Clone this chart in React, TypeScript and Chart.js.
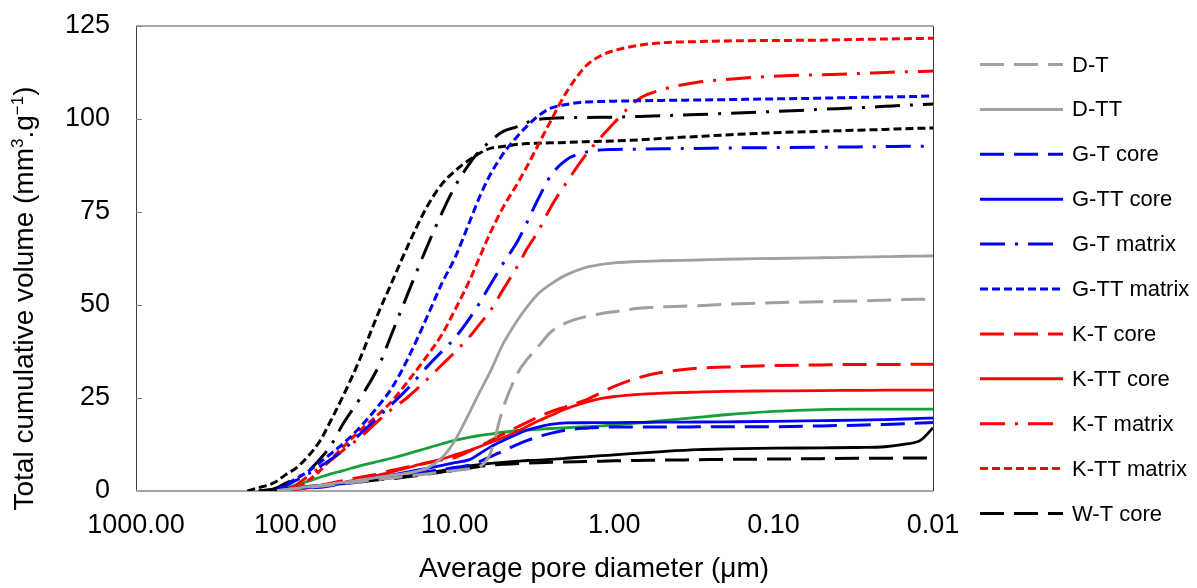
import React, { useEffect, useRef } from 'react';
import { Chart, registerables } from 'chart.js';
Chart.register(...registerables);

const FONT = '"Liberation Sans", Arial, Helvetica, sans-serif';

// Average pore diameter (µm) sampling grid
const diameters = [220, 200, 170, 150, 130, 115, 100, 85, 70, 60, 50, 40, 30, 25, 20, 15, 12, 10, 8, 7, 6, 5, 4, 3.5, 3, 2.5, 2, 1.5, 1.2, 1, 0.7, 0.5, 0.3, 0.2, 0.1, 0.05, 0.03, 0.02, 0.015, 0.012, 0.01];

// Total cumulative volume (mm3/g)
const dT = [null, null, null, null, 0.1, 0.3, 0.6, 0.9, 1.3, 1.6, 2.0, 2.5, 3.1, 3.5, 4.0, 4.6, 5.1, 5.5, 6.0, 6.5, 10, 22, 32, 35.5, 38.8, 42.7, 45.2, 46.9, 47.7, 48.2, 49.1, 49.5, 49.8, 50.2, 50.6, 50.9, 51.1, 51.3, 51.45, 51.55, 51.6];
const dTT = [null, null, null, null, 0.1, 0.4, 0.7, 1.1, 1.5, 1.9, 2.3, 2.9, 3.7, 4.2, 4.8, 6.1, 9, 13.5, 21.5, 26.5, 32, 39.4, 46.2, 49.6, 53, 55.6, 58.1, 60.1, 60.9, 61.3, 61.7, 61.9, 62.1, 62.3, 62.5, 62.7, 62.85, 63, 63.1, 63.15, 63.2];
const gTcore = [null, null, null, null, 0.1, 0.3, 0.6, 0.8, 1.0, 1.4, 1.9, 2.4, 3.3, 3.8, 4.5, 5.2, 5.8, 6.3, 7, 7.9, 9.2, 10.7, 12.6, 13.6, 14.6, 15.5, 16.4, 16.9, 17.1, 17.2, 17.2, 17.2, 17.25, 17.3, 17.3, 17.5, 17.7, 17.9, 18.1, 18.3, 18.4];
const gTTcore = [null, null, null, null, 0.1, 0.4, 0.7, 1.0, 1.3, 1.6, 2.1, 2.8, 3.7, 4.3, 5.1, 6.1, 6.9, 7.6, 8.5, 10, 11.8, 13.5, 15.4, 16.4, 17.2, 17.9, 18.3, 18.35, 18.4, 18.4, 18.45, 18.5, 18.55, 18.6, 18.7, 18.9, 19.05, 19.2, 19.35, 19.5, 19.6];
const gTmatrix = [null, null, null, null, 0.3, 1.4, 2.8, 4.3, 6.6, 8.5, 11, 15, 20, 23.2, 27.3, 33.3, 37.6, 41.1, 46.7, 50.5, 55.4, 61, 67.5, 72.5, 78.5, 84.8, 89, 91.1, 91.7, 91.8, 91.9, 92, 92.1, 92.2, 92.3, 92.4, 92.5, 92.6, 92.65, 92.7, 92.7];
const gTTmatrix = [null, null, null, null, 0.3, 1.7, 3.2, 5.0, 7.7, 10, 12.8, 16.8, 23, 27.5, 35, 46.6, 56, 62.6, 72.8, 79, 85, 90.5, 95.6, 98.2, 100.8, 102.9, 103.9, 104.6, 104.7, 104.8, 104.9, 105, 105.1, 105.2, 105.4, 105.6, 105.8, 105.9, 106, 106.1, 106.2];
const kTcore = [null, null, null, null, null, 0.2, 0.5, 0.9, 1.5, 2.1, 2.8, 3.6, 4.6, 5.5, 6.4, 7.5, 8.4, 9.0, 10.8, 12, 13.5, 15.3, 17.3, 18.5, 19.9, 21.3, 22.7, 24.5, 26.5, 28.1, 30.5, 31.9, 33, 33.3, 33.7, 33.9, 34, 34, 34.05, 34.1, 34.1];
const kTTcore = [null, null, null, null, null, 0.1, 0.4, 0.8, 1.2, 1.7, 2.3, 3.1, 4.3, 5.1, 6.2, 7.6, 8.6, 9.7, 11, 11.9, 13, 14.3, 16.2, 17.4, 18.8, 20.3, 22.1, 23.9, 24.9, 25.4, 26, 26.3, 26.6, 26.8, 26.9, 27, 27.05, 27.1, 27.1, 27.1, 27.1];
const kTmatrix = [null, null, null, null, null, 0.1, 1.5, 3.7, 6.3, 8.2, 11, 14.1, 19, 21.9, 25, 29.9, 34, 37.3, 41.7, 44.8, 48.4, 54, 60.8, 65.3, 69.8, 76.3, 82.8, 90.5, 95.3, 99, 105.4, 107.9, 109.9, 110.6, 111.5, 111.9, 112.2, 112.5, 112.7, 112.8, 112.9];
const kTTmatrix = [null, null, null, null, null, 0.2, 0.7, 2.5, 5.5, 8.5, 11.9, 16, 20.7, 24, 29.1, 36.2, 42.2, 48.6, 57, 62.8, 69.3, 76.1, 83, 87.5, 93, 99.5, 107.1, 114.3, 117.1, 118.4, 119.8, 120.5, 120.8, 121, 121.1, 121.2, 121.4, 121.5, 121.6, 121.65, 121.7];
const wTcore = [null, null, 0, 0.2, 0.4, 0.6, 0.8, 1.1, 1.4, 1.7, 2.0, 2.4, 3.0, 3.3, 3.8, 4.5, 5.1, 5.5, 6.2, 6.6, 6.9, 7.2, 7.4, 7.5, 7.6, 7.7, 7.8, 7.9, 8.0, 8.1, 8.2, 8.3, 8.4, 8.5, 8.6, 8.7, 8.8, 8.8, 8.9, 8.9, 8.9];
const wTTcore = [null, null, 0, 0.3, 0.5, 0.7, 0.9, 1.2, 1.5, 1.8, 2.2, 2.6, 3.2, 3.5, 4.0, 4.8, 5.5, 6.0, 6.8, 7.1, 7.4, 7.7, 8.0, 8.2, 8.3, 8.5, 8.8, 9.2, 9.5, 9.7, 10.2, 10.6, 11.1, 11.3, 11.5, 11.6, 11.7, 11.9, 12.6, 13.6, 17];
const wTmatrix = [null, null, null, 0, 0.9, 2.1, 3.4, 5.0, 8.6, 12.2, 18.2, 24.4, 33.6, 42, 52.4, 65.5, 74.9, 81.8, 88.3, 91.4, 94, 96.6, 98, 99.1, 99.9, 100.2, 100.35, 100.4, 100.45, 100.5, 100.7, 100.9, 101.2, 101.5, 102, 102.6, 103, 103.4, 103.7, 103.85, 104];
const wTTmatrix = [null, 0, 0.9, 1.5, 2.7, 4.4, 6.0, 8.9, 13.5, 18.9, 25.7, 34.8, 48.1, 55.8, 65.3, 76.3, 82.6, 86, 89.2, 90.8, 92.1, 92.6, 93.2, 93.4, 93.5, 93.6, 93.7, 93.9, 94.0, 94.1, 94.4, 94.8, 95.3, 95.7, 96.3, 96.7, 97.0, 97.2, 97.4, 97.5, 97.6];
const other = [null, null, null, null, 0.4, 0.9, 1.5, 2.5, 3.7, 4.6, 5.5, 6.7, 8, 8.8, 9.9, 11.5, 12.7, 13.6, 14.5, 14.9, 15.3, 15.8, 16.2, 16.4, 16.6, 16.8, 17, 17.3, 17.5, 17.8, 18.3, 18.9, 19.8, 20.5, 21.4, 21.9, 22, 22, 22, 22, 22];

const xTickValues = [1000, 100, 10, 1, 0.1, 0.01];
const LEGEND_COUNT = 11;

const GRAY = '#a0a0a0';
const BLUE = '#0000ff';
const RED = '#ff0000';
const BLACK = '#000000';
const GREEN = '#16a03a';

const LONG = [24, 10];
const DASHDOT = [25, 10, 3, 10];
const SHORT = [8, 4];
const SOLID: number[] = [];

const seriesDefs = [
  { label: 'D-T', values: dT, color: GRAY, dash: LONG },
  { label: 'D-TT', values: dTT, color: GRAY, dash: SOLID },
  { label: 'G-T core', values: gTcore, color: BLUE, dash: LONG },
  { label: 'G-TT core', values: gTTcore, color: BLUE, dash: SOLID },
  { label: 'G-T matrix', values: gTmatrix, color: BLUE, dash: DASHDOT },
  { label: 'G-TT matrix', values: gTTmatrix, color: BLUE, dash: SHORT },
  { label: 'K-T core', values: kTcore, color: RED, dash: LONG },
  { label: 'K-TT core', values: kTTcore, color: RED, dash: SOLID },
  { label: 'K-T matrix', values: kTmatrix, color: RED, dash: DASHDOT },
  { label: 'K-TT matrix', values: kTTmatrix, color: RED, dash: SHORT },
  { label: 'W-T core', values: wTcore, color: BLACK, dash: LONG },
  { label: 'W-TT core', values: wTTcore, color: BLACK, dash: SOLID },
  { label: 'W-T matrix', values: wTmatrix, color: BLACK, dash: DASHDOT },
  { label: 'W-TT matrix', values: wTTmatrix, color: BLACK, dash: SHORT },
  { label: 'Other', values: other, color: GREEN, dash: SOLID },
];

function drawRich(ctx: CanvasRenderingContext2D, parts: { t: string; sup?: boolean }[], cx: number, baseline: number, size: number) {
  const fN = `${size}px ${FONT}`;
  const fS = `${Math.round(size * 0.62)}px ${FONT}`;
  const widths = parts.map((p) => {
    ctx.font = p.sup ? fS : fN;
    return ctx.measureText(p.t).width;
  });
  const total = widths.reduce((a, b) => a + b, 0);
  let x = cx - total / 2;
  ctx.textAlign = 'left';
  ctx.textBaseline = 'alphabetic';
  parts.forEach((p, i) => {
    ctx.font = p.sup ? fS : fN;
    ctx.fillText(p.t, x, p.sup ? baseline - size * 0.36 : baseline);
    x += widths[i];
  });
}

const framePlugin = {
  id: 'frameAndLegend',
  beforeDatasetsDraw(chart: any) {
    const { ctx } = chart;
    const { left, right, top, bottom } = chart.chartArea;
    const seg = (x1: number, y1: number, x2: number, y2: number) => {
      ctx.beginPath();
      ctx.moveTo(x1, y1);
      ctx.lineTo(x2, y2);
      ctx.stroke();
    };
    ctx.save();
    ctx.strokeStyle = '#8c8c8c';
    ctx.lineWidth = 1.5;
    seg(left, top, right, top);
    ctx.strokeStyle = '#404040';
    ctx.lineWidth = 1;
    seg(right + 0.5, top, right + 0.5, bottom);
    seg(left + 0.5, top, left + 0.5, bottom);
    ctx.strokeStyle = '#808080';
    const ys = chart.scales.y;
    ys.ticks.forEach((t: any) => {
      const y = Math.round(ys.getPixelForValue(t.value)) + 0.5;
      seg(left, y, left + 6, y);
    });
    ctx.strokeStyle = '#a6a6a6';
    ctx.lineWidth = 2;
    seg(left, bottom, right, bottom);
    ctx.restore();
  },
  afterDraw(chart: any) {
    const { ctx } = chart;
    ctx.save();
    // legend
    chart.data.datasets.slice(0, LEGEND_COUNT).forEach((d: any, i: number) => {
      const y = 64.5 + i * 44.9;
      ctx.strokeStyle = d.borderColor;
      ctx.lineWidth = 3;
      ctx.setLineDash(d.borderDash || []);
      ctx.beginPath();
      ctx.moveTo(980, y);
      ctx.lineTo(1063, y);
      ctx.stroke();
      ctx.setLineDash([]);
      ctx.fillStyle = '#000';
      ctx.font = `22px ${FONT}`;
      ctx.textAlign = 'left';
      ctx.textBaseline = 'middle';
      ctx.fillText(d.label, 1072, y + 1);
    });
    // axis titles
    ctx.fillStyle = '#000';
    drawRich(ctx, [{ t: 'Average pore diameter (\u03bcm)' }], 594, 577, 28);
    ctx.translate(33, 298.5);
    ctx.rotate(-Math.PI / 2);
    drawRich(
      ctx,
      [
        { t: 'Total cumulative volume (mm' },
        { t: '3', sup: true },
        { t: '.g' },
        { t: '\u22121', sup: true },
        { t: ')' },
      ],
      0,
      0,
      28
    );
    ctx.restore();
  },
};

export default function App() {
  const ref = useRef<HTMLCanvasElement>(null);
  useEffect(() => {
    document.body.style.margin = '0';
    const datasets = seriesDefs.map((s) => ({
      label: s.label,
      data: diameters.map((d, i) => ({ x: d, y: s.values[i] })),
      borderColor: s.color,
      backgroundColor: s.color,
      borderWidth: s.dash.length ? 3 : 2.8,
      borderDash: s.dash,
      pointRadius: 0,
      fill: false,
      cubicInterpolationMode: 'monotone' as const,
      spanGaps: false,
    }));
    const chart = new Chart(ref.current as HTMLCanvasElement, {
      type: 'line',
      data: { datasets: datasets as any },
      options: {
        animation: false,
        responsive: false,
        devicePixelRatio: 1,
        layout: { padding: { top: 26, right: 264, bottom: 0, left: 0 } },
        plugins: { legend: { display: false }, tooltip: { enabled: false } },
        scales: {
          x: {
            type: 'logarithmic',
            reverse: true,
            min: 0.01,
            max: 1000,
            afterBuildTicks: (s: any) => {
              s.ticks = xTickValues.map((v) => ({ value: v }));
            },
            afterFit: (s: any) => {
              s.height = 97;
              s.paddingLeft = 0;
              s.paddingRight = 0;
            },
            ticks: {
              callback: (v: any) => Number(v).toFixed(2),
              font: { size: 27, family: FONT },
              color: '#000',
              padding: 18,
              maxRotation: 0,
              autoSkip: false,
            },
            grid: { display: false, drawTicks: false },
            border: { display: false },
          },
          y: {
            min: 0,
            max: 125,
            afterFit: (s: any) => {
              s.width = 136;
              s.paddingTop = 0;
              s.paddingBottom = 0;
            },
            ticks: {
              stepSize: 25,
              font: { size: 27, family: FONT },
              color: '#000',
              padding: 26,
            },
            grid: { display: false, drawTicks: false },
            border: { display: false },
          },
        },
      },
      plugins: [framePlugin],
    });
    return () => chart.destroy();
  }, []);
  return (
    <div style={{ width: 1197, height: 588 }}>
      <canvas ref={ref} width={1197} height={588} style={{ display: 'block' }} />
    </div>
  );
}
